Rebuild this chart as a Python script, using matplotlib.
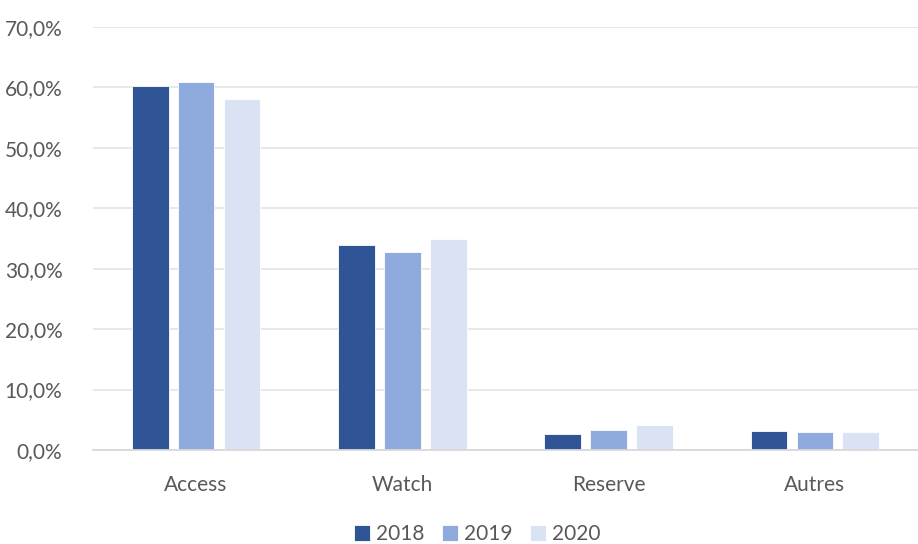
import numpy as np
import matplotlib.pyplot as plt

plt.rcParams['font.family'] = ['Lato', 'DejaVu Sans']

categories = ['Access', 'Watch', 'Reserve', 'Autres']
years = ['2018', '2019', '2020']
v2018 = [60.3, 33.9, 2.6, 3.1]
v2019 = [60.9, 32.8, 3.3, 3.0]
v2020 = [58.1, 34.9, 4.1, 2.9]
colors = ['#2F5597', '#8FAADC', '#DAE3F3']

fig = plt.figure(figsize=(9.18, 5.44), dpi=100)
ax = fig.add_axes([93/918, 1-450/544, 825/918, 423/544])

x = np.arange(len(categories))
w = 0.178
step = 0.222
for i, (vals, c, lab) in enumerate(zip([v2018, v2019, v2020], colors, years)):
    ax.bar(x + (i-1)*step, np.array(vals)/100, w, color=c, label=lab,
           edgecolor='white', linewidth=0.6, zorder=3)

ax.set_xlim(-0.5, 3.5)
ax.set_ylim(0, 0.7)
ax.set_yticks(np.arange(0, 0.71, 0.1))
ax.set_yticklabels([f'{v:.1f}%'.replace('.', ',') for v in np.arange(0, 71, 10)])
ax.set_xticks(x)
ax.set_xticklabels(categories)
ax.grid(axis='y', color='#E6E6E6', linewidth=1.3, zorder=0)
for s in ['top', 'right', 'left']:
    ax.spines[s].set_visible(False)
ax.spines['bottom'].set_color('#D9D9D9')
ax.spines['bottom'].set_linewidth(1.3)
ax.spines['bottom'].set_zorder(4)
ax.tick_params(length=0, labelsize=15, labelcolor='#595959')
ax.tick_params(axis='y', pad=22)
ax.tick_params(axis='x', pad=18)

fig.legend(loc='lower center', bbox_to_anchor=(0.52, -0.035), ncol=3,
           frameon=False, fontsize=15, labelcolor='#595959',
           handlelength=0.75, handleheight=0.75, handletextpad=0.3,
           columnspacing=0.85)

fig.savefig('out.png', dpi=100)
